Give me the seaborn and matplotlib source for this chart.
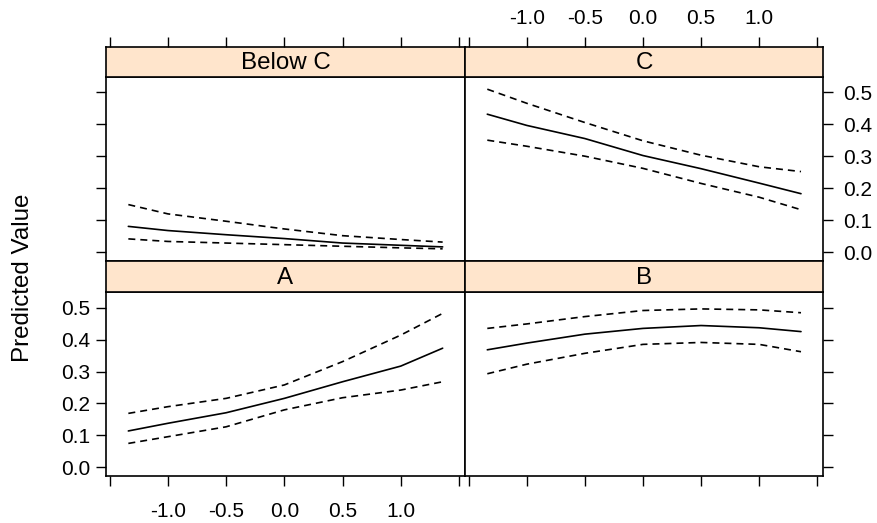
import numpy as np
import pandas as pd
import matplotlib
matplotlib.use("Agg")
import matplotlib.pyplot as plt
import seaborn as sns

## Effect values
xgrid = [-1.34, -1.0, -0.5, 0.0, 0.5, 1.0, 1.36]
levels = ['Below C', 'C', 'A', 'B']

fit_belowc = [0.081, 0.068, 0.055, 0.043, 0.029, 0.022, 0.017]
upr_belowc = [0.149, 0.120, 0.097, 0.073, 0.052, 0.040, 0.032]
lwr_belowc = [0.042, 0.034, 0.029, 0.024, 0.019, 0.014, 0.011]

fit_c = [0.431, 0.396, 0.355, 0.302, 0.261, 0.216, 0.183]
upr_c = [0.509, 0.465, 0.405, 0.348, 0.303, 0.267, 0.252]
lwr_c = [0.350, 0.331, 0.300, 0.262, 0.215, 0.172, 0.133]

fit_a = [0.114, 0.138, 0.171, 0.216, 0.268, 0.317, 0.373]
upr_a = [0.169, 0.190, 0.216, 0.258, 0.331, 0.414, 0.482]
lwr_a = [0.075, 0.096, 0.127, 0.180, 0.218, 0.242, 0.268]

fit_b = [0.368, 0.389, 0.417, 0.435, 0.444, 0.437, 0.425]
upr_b = [0.435, 0.449, 0.472, 0.491, 0.496, 0.493, 0.484]
lwr_b = [0.293, 0.323, 0.357, 0.385, 0.391, 0.385, 0.362]

xticks = [-1.5, -1.0, -0.5, 0.0, 0.5, 1.0, 1.5]
xticklabels = ['', '-1.0', '-0.5', '0.0', '0.5', '1.0', '']
yticks = [0.0, 0.1, 0.2, 0.3, 0.4, 0.5]
yticklabels = ['0.0', '0.1', '0.2', '0.3', '0.4', '0.5']

rows = []
for lev, f, u, l in zip(levels,
                        [fit_belowc, fit_c, fit_a, fit_b],
                        [upr_belowc, upr_c, upr_a, upr_b],
                        [lwr_belowc, lwr_c, lwr_a, lwr_b]):
    for xv, fv, uv, lv in zip(xgrid, f, u, l):
        rows.append({'level': lev, 'x': xv, 'fit': fv, 'upper': uv, 'lower': lv})
EffDF = pd.DataFrame(rows)

sns.set_style("white")
plt.rcParams['font.family'] = ['Liberation Sans', 'DejaVu Sans']
for key in ['text.color', 'axes.labelcolor', 'xtick.color', 'ytick.color', 'axes.edgecolor']:
    plt.rcParams[key] = 'black'

W, H = 877, 523
fig = plt.figure(figsize=(W / 100, H / 100), dpi=100)

def fx(px):
    return px / W

def fy(py):
    return 1 - py / H

## panel layout (pixels): column x-extent, row strip/plot extent
cols = {0: (106, 465), 1: (465, 823.3)}
rowsy = {0: (46.7, 76.7, 261), 1: (261, 292.3, 476)}
Layout = {'Below C': (0, 0), 'C': (0, 1), 'A': (1, 0), 'B': (1, 1)}

xlim = (-1.532, 1.552)
ylim = (-0.027, 0.548)
tickkw = dict(direction='out', length=7.5, width=1.0, labelsize=15, color='black', labelcolor='black')
stripcol = '#FFE5CC'

for lev, (r, c) in Layout.items():
    x0, x1 = cols[c]
    s0, s1, p1 = rowsy[r]
    ax = fig.add_axes([fx(x0), fy(p1), fx(x1 - x0), (p1 - s1) / H])
    sax = fig.add_axes([fx(x0), fy(s1), fx(x1 - x0), (s1 - s0) / H])

    sub = EffDF[EffDF['level'] == lev]
    sns.lineplot(data=sub, x='x', y='fit', ax=ax, color='black', lw=1.2)
    for col in ['upper', 'lower']:
        sns.lineplot(data=sub, x='x', y=col, ax=ax, color='black', lw=1.2,
                     linestyle=(0, (4.2, 3.0)))
    ax.set_xlim(xlim)
    ax.set_ylim(ylim)
    ax.set_xlabel('')
    ax.set_ylabel('')
    for sp in ax.spines.values():
        sp.set_linewidth(1.2)

    ax.set_yticks(yticks)
    ax.set_yticklabels(yticklabels)
    ax.set_xticks(xticks)
    ax.set_xticklabels(xticklabels)
    ax.tick_params(**tickkw)
    if c == 0:
        ax.tick_params(axis='y', left=True, right=False, labelleft=(r == 1), labelright=False, pad=4)
    else:
        ax.tick_params(axis='y', left=False, right=True, labelleft=False, labelright=(r == 0), pad=7)
    if r == 1:
        ax.tick_params(axis='x', bottom=True, top=False, labelbottom=(c == 0), labeltop=False, pad=11)
    else:
        ax.tick_params(axis='x', bottom=False, top=False, labelbottom=False, labeltop=False)

    ## strip
    sax.set_facecolor(stripcol)
    sax.set_xlim(xlim)
    sax.set_ylim(0, 1)
    sax.set_yticks([])
    for sp in sax.spines.values():
        sp.set_linewidth(1.2)
    sax.text(0.5, 0.45, lev, transform=sax.transAxes, ha='center', va='center', fontsize=17.4)
    if r == 0:
        sax.set_xticks(xticks)
        sax.set_xticklabels(xticklabels)
        sax.tick_params(**tickkw)
        sax.tick_params(axis='x', top=True, bottom=False, labeltop=(c == 1), labelbottom=False, pad=6)
    else:
        sax.set_xticks([])

fig.text(fx(23), fy(277.5), 'Predicted Value', rotation=90, ha='center', va='center', fontsize=17.4)

plt.savefig('out.png', dpi=100, facecolor='white')
